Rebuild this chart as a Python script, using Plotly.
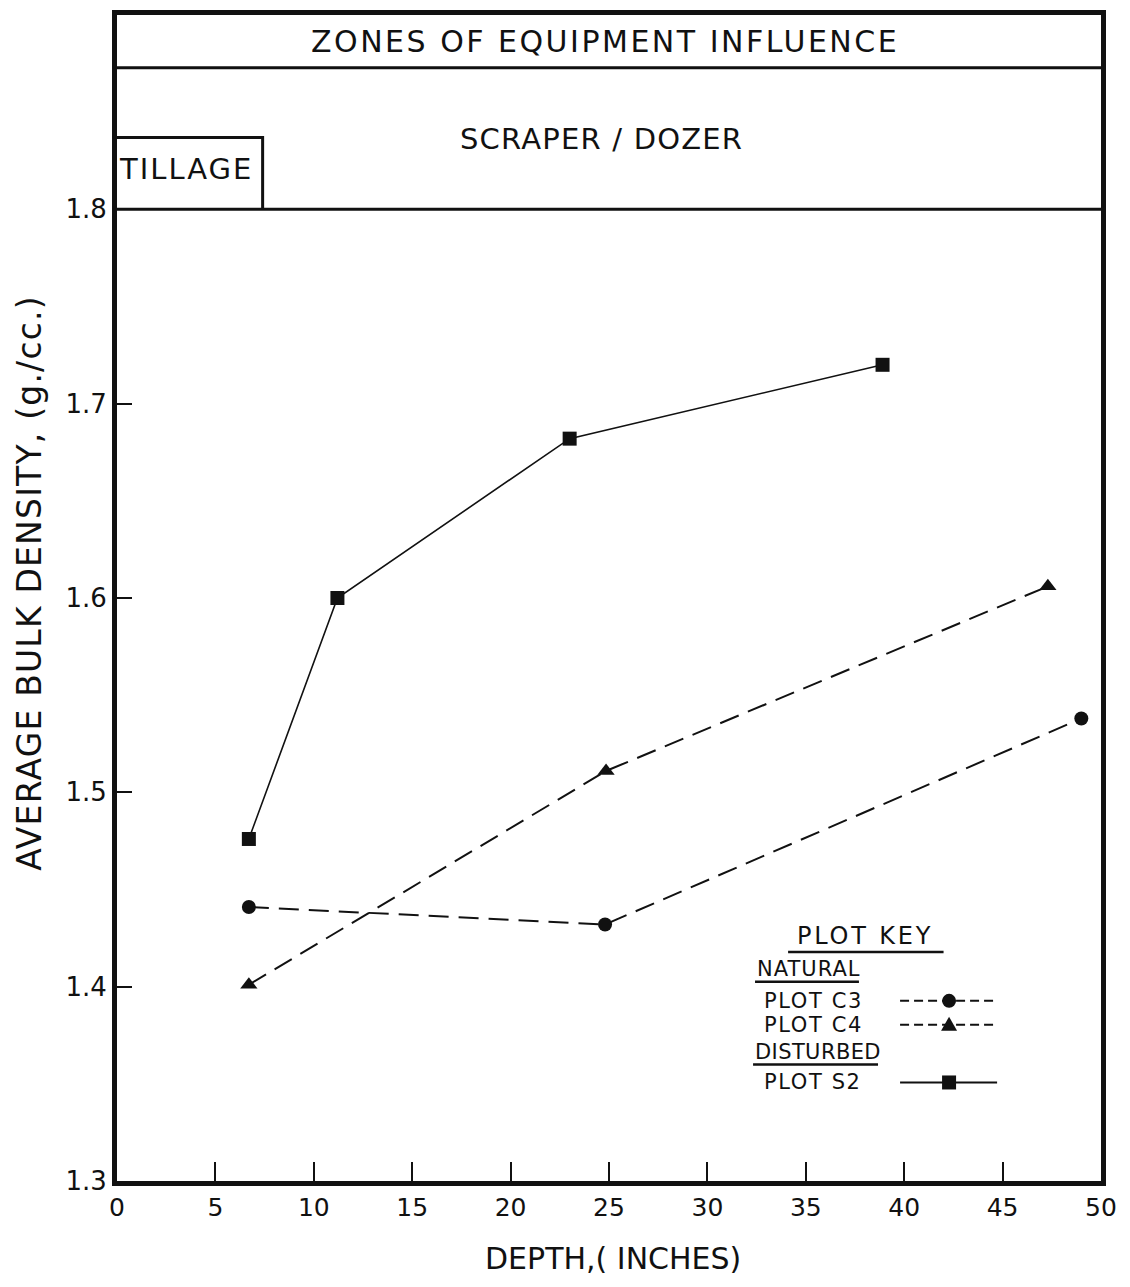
import plotly.graph_objects as go

# ---------------- data ----------------
depth_c3 = [6.7, 24.8, 49.0]
dens_c3 = [1.441, 1.432, 1.538]

depth_c4 = [6.7, 24.85, 47.3]
dens_c4 = [1.401, 1.511, 1.606]

depth_s2 = [6.7, 11.2, 23.0, 38.9]
dens_s2 = [1.476, 1.600, 1.682, 1.720]

x_ticks = [0, 5, 10, 15, 20, 25, 30, 35, 40, 45, 50]
y_ticks = [1.3, 1.4, 1.5, 1.6, 1.7, 1.8]
y_ticktext = ["1.3", "1.4", "1.5", "1.6", "1.7", "1.8"]

title_zones = "ZONES OF EQUIPMENT INFLUENCE"
zone_scraper = "SCRAPER / DOZER"
zone_tillage = "TILLAGE"
x_title = "DEPTH,( INCHES)"
y_title = "AVERAGE BULK DENSITY, (g./cc.)"

key_title = "PLOT KEY"
key_groups = ["NATURAL", "DISTURBED"]
key_names = ["PLOT C3", "PLOT C4", "PLOT S2"]

# ---------------- styling ----------------
INK = "#111111"
FONT = "DejaVu Sans"

fig = go.Figure()

fig.add_trace(go.Scatter(
    x=depth_c3, y=dens_c3, mode="lines+markers", name=key_names[0],
    line=dict(color=INK, width=2, dash="20px,10px"),
    marker=dict(symbol="circle", size=14, color=INK),
    showlegend=False, hoverinfo="skip"))

fig.add_trace(go.Scatter(
    x=depth_c4, y=dens_c4, mode="lines+markers", name=key_names[1],
    line=dict(color=INK, width=2, dash="20px,10px"),
    marker=dict(symbol="triangle-up", size=15, color=INK),
    showlegend=False, hoverinfo="skip"))

fig.add_trace(go.Scatter(
    x=depth_s2, y=dens_s2, mode="lines+markers", name=key_names[2],
    line=dict(color=INK, width=1.6),
    marker=dict(symbol="square", size=14, color=INK),
    showlegend=False, hoverinfo="skip"))

shapes = []
# header band lines
shapes.append(dict(type="line", xref="x", yref="y", x0=0, x1=50, y0=1.8, y1=1.8,
                   line=dict(color=INK, width=3)))
shapes.append(dict(type="line", xref="x", yref="y", x0=0, x1=50, y0=1.8728, y1=1.8728,
                   line=dict(color=INK, width=3)))
# tillage box
shapes.append(dict(type="path", xref="x", yref="y",
                   path="M 0,1.837 L 7.4,1.837 L 7.4,1.8",
                   line=dict(color=INK, width=3)))

# plot key underlines
for (xa, xb, yy) in [(34.1, 42.0, 1.4178), (32.42, 37.7, 1.4025), (32.32, 38.67, 1.360)]:
    shapes.append(dict(type="line", xref="x", yref="y", x0=xa, x1=xb, y0=yy, y1=yy,
                       line=dict(color=INK, width=2.5)))

# plot key samples
key_y = [1.3927, 1.3804, 1.3507]
key_dash = ["9px,5px", "9px,5px", "solid"]
for yy, dsh in zip(key_y, key_dash):
    shapes.append(dict(type="line", xref="x", yref="y", x0=39.79, x1=44.72, y0=yy, y1=yy,
                       line=dict(color=INK, width=2, dash=dsh)))
mx = 42.28
shapes.append(dict(type="circle", xref="x", yref="y", xsizemode="pixel", ysizemode="pixel",
                   xanchor=mx, yanchor=key_y[0], x0=-7, x1=7, y0=-7, y1=7,
                   fillcolor=INK, line=dict(color=INK, width=0)))
shapes.append(dict(type="path", xref="x", yref="y", xsizemode="pixel", ysizemode="pixel",
                   xanchor=mx, yanchor=key_y[1], path="M -8,-6 L 8,-6 L 0,8 Z",
                   fillcolor=INK, line=dict(color=INK, width=0)))
shapes.append(dict(type="rect", xref="x", yref="y", xsizemode="pixel", ysizemode="pixel",
                   xanchor=mx, yanchor=key_y[2], x0=-7, x1=7, y0=-7, y1=7,
                   fillcolor=INK, line=dict(color=INK, width=0)))

annotations = []
def txt(text, x, y, size, ls=0.0, xanchor="center", xref="x", yref="y", **kw):
    if ls:
        text = '<span style="letter-spacing:%.1fpx">%s</span>' % (ls, text)
    annotations.append(dict(text=text, x=x, y=y, xref=xref, yref=yref,
                            xanchor=xanchor, yanchor="middle", showarrow=False,
                            font=dict(family=FONT, size=size, color=INK), **kw))

txt(title_zones, 24.8, 1.8862, 30, ls=2.5)
txt(zone_scraper, 24.6, 1.836, 29, ls=1.2)
txt(zone_tillage, 3.5, 1.8206, 29, ls=2.0)

txt(key_title, 38.0, 1.426, 24, ls=2.8)
txt(key_groups[0], 32.42, 1.4091, 21, ls=1.0, xanchor="left")
txt(key_names[0], 32.77, 1.3927, 21, ls=1.6, xanchor="left")
txt(key_names[1], 32.77, 1.3804, 21, ls=1.6, xanchor="left")
txt(key_groups[1], 32.32, 1.3666, 21, ls=0.4, xanchor="left")
txt(key_names[2], 32.77, 1.3507, 21, ls=1.6, xanchor="left")

# axis titles
txt(y_title, 0, 0.513, 33, ls=1.2, xref="paper", yref="paper", xshift=-87, textangle=-90)
txt(x_title, 0.5045, -0.0666, 30, xref="paper", yref="paper")

fig.update_layout(
    width=1130, height=1287,
    margin=dict(l=117, r=29, t=10, b=106),
    paper_bgcolor="white", plot_bgcolor="white",
    shapes=shapes, annotations=annotations,
    hovermode=False,
    xaxis=dict(range=[0, 50], tickvals=x_ticks, ticks="inside", ticklen=19, tickwidth=2,
               tickcolor=INK, showline=True, linewidth=5, linecolor=INK, mirror=True,
               showgrid=False, zeroline=False,
               tickfont=dict(family=FONT, size=25, color=INK)),
    yaxis=dict(range=[1.3, 1.9], tickvals=y_ticks, ticktext=y_ticktext, ticks="inside",
               ticklen=15, tickwidth=2, tickcolor=INK, showline=True, linewidth=5,
               linecolor=INK, mirror=True, showgrid=False, zeroline=False,
               tickfont=dict(family=FONT, size=26, color=INK)),
)

fig.write_html("out.html")
